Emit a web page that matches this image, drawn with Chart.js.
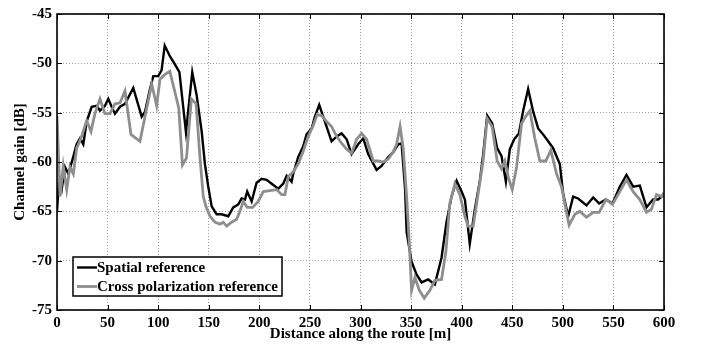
<!DOCTYPE html>
<html>
<head>
<meta charset="utf-8">
<script src="https://cdn.jsdelivr.net/npm/chart.js@4/dist/chart.umd.min.js"></script>
<style>
  html, body { margin: 0; padding: 0; background: #fff; }
  #wrap { width: 707px; height: 348px; }
</style>
</head>
<body>
<div id="wrap"><canvas id="gainChart"></canvas></div>
<script>
  // distance [m] and channel gain [dB] for each reference
  const spatialDist = [0, 2, 4.6, 7.9, 11.2, 16, 19.4, 22.7, 26, 29.3, 34.3, 39.2, 42.5, 47.4, 50.7, 54, 57.3, 62.3, 67.2, 75.4,
    83.7, 87, 91.9, 95.2, 100.1, 103.4, 106.5, 111.7, 116, 121, 127.5, 133.7, 138, 143, 146.2, 149.5, 152.9, 157.8, 162.7, 169.3,
    174.2, 179.2, 182.5, 185.8, 188, 192.4, 197.3, 202.3, 207.2, 212.2, 218.7, 223.6, 227, 231.9, 233.5, 238.4, 243.4, 246.7, 251.7, 254.9,
    259.2, 264.8, 271.4, 276.4, 281.3, 286.3, 291.2, 297.7, 302.7, 307.6, 315.9, 320.8, 327.4, 332.3, 337.3, 340.6, 344.1, 345.6, 350.5, 355.4,
    360.4, 366.9, 373.5, 380.1, 385, 390, 395, 399.9, 403.2, 408, 413, 418, 421.3, 425.2, 430.2, 435.1, 439.4, 443.7, 447.6, 451.9,
    456.5, 460.8, 465.7, 470.7, 475.6, 480.5, 485.5, 490.4, 497, 500.3, 505.3, 510.2, 515.1, 523.4, 530, 535.9, 542.5, 549.1, 556.3, 562.9,
    569.5, 576.1, 582.7, 589.2, 594.2, 600];
  const spatialGain = [-65, -61.9, -62.8, -60.5, -61.2, -59.5, -58.2, -57.6, -58.2, -55.9, -54.4, -54.3, -54.8, -54.3, -53.6, -54.4, -55.1, -54.4, -54.1, -52.5,
    -55.4, -54.9, -52.6, -51.3, -51.3, -50.7, -48.2, -49.3, -50, -50.9, -57, -50.9, -53.2, -56.9, -60.2, -62.5, -64.5, -65.3, -65.3, -65.5,
    -64.6, -64.3, -63.7, -63.8, -63, -64, -62.1, -61.7, -61.8, -62.2, -62.7, -62.2, -61.4, -62, -61.2, -59.5, -58.4, -57.2, -56.6, -55.4,
    -54.2, -55.9, -57.9, -57.4, -57.1, -57.7, -59.2, -58.2, -57.6, -59.2, -60.8, -60.4, -59.5, -59, -58.2, -58.1, -62.8, -67.1, -70.1, -71.4,
    -72.2, -71.9, -72.4, -69.7, -66.1, -63.5, -61.9, -63, -63.8, -68.3, -64.8, -61.9, -59.2, -55.3, -56.1, -58.6, -59.4, -62, -58.7, -57.7,
    -57.1, -54.8, -52.6, -54.9, -56.6, -57.2, -57.9, -58.6, -60.2, -63.2, -65.5, -63.5, -63.7, -64.4, -63.6, -64.2, -63.8, -64.2, -62.5, -61.3,
    -62.5, -62.4, -64.6, -63.8, -63.8, -63.3];

  const crossDist = [0, 3, 6.2, 9.6, 12.8, 16.1, 19.5, 24.4, 29.3, 33.6, 37.5, 42.5, 47.4, 52.4, 57.3, 62.3, 67.2, 73.1, 82, 90.2,
    93.6, 98.5, 101.8, 106.5, 111.5, 116.3, 120.3, 124, 128, 132.8, 137.5, 141.3, 144.6, 147.2, 151.2, 156.1, 161.1, 164.3, 167.7, 172.6,
    177.6, 180.8, 184.1, 188, 193.4, 198.9, 203.9, 210.5, 217.1, 222, 225.3, 228.6, 233.5, 238.4, 243.4, 248.3, 253.3, 257.2, 261.6, 266.5,
    271.4, 276.4, 281.3, 286.3, 291.2, 296.2, 301.1, 306, 312.6, 317.5, 322.4, 327.4, 332.3, 335.7, 339.1, 342.2, 345.6, 348.2, 350.5, 353.8,
    358.1, 363, 368.6, 373.5, 380.1, 384.4, 388.3, 393.3, 398.2, 403.2, 406.4, 411.4, 416.3, 421.2, 425.2, 430.1, 435.1, 439.4, 442.7, 446,
    450, 454.3, 459.2, 463.2, 467.4, 472.3, 477.3, 483.2, 488.1, 493.8, 498.7, 503, 506.2, 511.9, 516.8, 523.4, 530, 535.9, 542.5, 549.1,
    556.3, 562.9, 569.5, 576.1, 582.7, 587.6, 592.6, 597.5, 600];
  const crossGain = [-55.3, -63.5, -60.4, -62.8, -60.5, -61.2, -58.6, -57.4, -55.8, -56.9, -55.1, -53.6, -55.1, -55.1, -54.1, -54, -52.8, -57.2, -57.9, -53.8,
    -52.1, -54.3, -51.6, -51.15, -50.8, -52.8, -54.5, -60.3, -59.6, -53.6, -54.1, -59.5, -63.5, -64.5, -65.5, -66.1, -66.3, -66.1, -66.5, -66.1,
    -65.8, -65, -64, -64.6, -64.6, -64, -63, -62.9, -62.8, -63.3, -63.3, -61.5, -61, -60.2, -58.9, -57.4, -56.3, -55.2, -55.3, -55.9,
    -56.4, -57.4, -58.1, -58.7, -59.1, -57.7, -57.1, -57.7, -59.9, -59.9, -60, -59.7, -59, -58.2, -56.4, -58.6, -63.5, -68.1, -73, -71.7,
    -73, -73.8, -73, -72, -71.9, -69.1, -64.2, -62.2, -63.3, -65.5, -66.5, -66.5, -63.2, -59.9, -55.6, -56.4, -59.9, -60.7, -59.9, -61.5,
    -62.8, -60.5, -56.1, -55.4, -54.8, -57.6, -59.9, -59.9, -58.8, -61.2, -62.5, -64.8, -66.4, -65.3, -65, -65.6, -65.1, -65.1, -63.8, -64.3,
    -63, -61.8, -63, -63.8, -65.1, -64.8, -63.3, -63.5, -63.1];

  const xTicks = { min: 0, max: 600, step: 50 };
  const yTicks = { min: -75, max: -45, step: 5 };

  const toPoints = (xs, ys) => xs.map((x, i) => ({ x: x, y: ys[i] }));

  const serif = "'Liberation Serif', 'Times New Roman', serif";

  // white page, framed axes box with inward tick marks, legend in the lower left
  const framePlugin = {
    id: 'frame',
    beforeDraw(chart) {
      const ctx = chart.ctx;
      ctx.save();
      ctx.fillStyle = '#fff';
      ctx.fillRect(0, 0, chart.width, chart.height);
      ctx.restore();
    },
    afterDraw(chart) {
      const { ctx, chartArea: a, scales } = chart;
      const len = 5;
      ctx.save();
      ctx.strokeStyle = '#000';
      ctx.lineWidth = 1;
      ctx.beginPath();
      scales.x.ticks.forEach(t => {
        const px = Math.round(scales.x.getPixelForValue(t.value)) + 0.5;
        ctx.moveTo(px, a.bottom); ctx.lineTo(px, a.bottom - len);
        ctx.moveTo(px, a.top); ctx.lineTo(px, a.top + len);
      });
      scales.y.ticks.forEach(t => {
        const py = Math.round(scales.y.getPixelForValue(t.value)) + 0.5;
        ctx.moveTo(a.left, py); ctx.lineTo(a.left + len, py);
        ctx.moveTo(a.right, py); ctx.lineTo(a.right - len, py);
      });
      ctx.stroke();
      ctx.lineWidth = 1.6;
      ctx.strokeRect(a.left, a.top, a.right - a.left, a.bottom - a.top);

      // legend
      const bx = 73, by = 257, bw = 209, bh = 39;
      ctx.fillStyle = '#fff';
      ctx.fillRect(bx, by, bw, bh);
      ctx.lineWidth = 1.5;
      ctx.strokeStyle = '#000';
      ctx.strokeRect(bx, by, bw, bh);
      ctx.font = 'bold 15px ' + serif;
      ctx.textBaseline = 'middle';
      ctx.textAlign = 'left';
      const rows = [267.5, 286.5];
      chart.data.datasets.forEach((ds, i) => {
        ctx.strokeStyle = ds.borderColor;
        ctx.lineWidth = ds.borderWidth;
        ctx.beginPath();
        ctx.moveTo(77, rows[i]);
        ctx.lineTo(97, rows[i]);
        ctx.stroke();
        ctx.fillStyle = '#000';
        ctx.fillText(ds.label, 97, rows[i] + 1);
      });
      ctx.restore();
    }
  };

  new Chart(document.getElementById('gainChart'), {
    type: 'line',
    data: {
      datasets: [{
        label: 'Spatial reference',
        data: toPoints(spatialDist, spatialGain),
        borderColor: '#000000',
        borderWidth: 2.4,
        pointRadius: 0,
        tension: 0,
        order: 2
      }, {
        label: 'Cross polarization reference',
        data: toPoints(crossDist, crossGain),
        borderColor: '#8e8e8e',
        borderWidth: 2.8,
        pointRadius: 0,
        tension: 0,
        order: 1
      }]
    },
    options: {
      responsive: true,
      maintainAspectRatio: false,
      animation: false,
      layout: { padding: { left: 0, right: 43, top: 6, bottom: 0 } },
      plugins: { legend: { display: false }, tooltip: { enabled: false } },
      scales: {
        x: {
          type: 'linear',
          min: xTicks.min,
          max: xTicks.max,
          afterFit: s => { s.height = 38; },
          ticks: {
            stepSize: xTicks.step,
            padding: 4,
            color: '#000',
            maxRotation: 0,
            font: { family: serif, size: 15, weight: 'bold' }
          },
          grid: { color: '#9a9a9a', lineWidth: 1, drawTicks: false },
          border: { display: false, dash: [1, 2] },
          title: {
            display: true,
            text: 'Distance along the route [m]',
            color: '#000',
            padding: { top: 0, bottom: 5 },
            font: { family: serif, size: 15, weight: 'bold' }
          }
        },
        y: {
          min: yTicks.min,
          max: yTicks.max,
          afterFit: s => { s.width = 57; },
          ticks: {
            stepSize: yTicks.step,
            padding: 5,
            color: '#000',
            font: { family: serif, size: 15, weight: 'bold' }
          },
          grid: { color: '#9a9a9a', lineWidth: 1, drawTicks: false },
          border: { display: false, dash: [1, 2] },
          title: {
            display: true,
            text: 'Channel gain [dB]',
            color: '#000',
            padding: { top: 11, bottom: 0 },
            font: { family: serif, size: 15, weight: 'bold' }
          }
        }
      }
    },
    plugins: [framePlugin]
  });
</script>
</body>
</html>
